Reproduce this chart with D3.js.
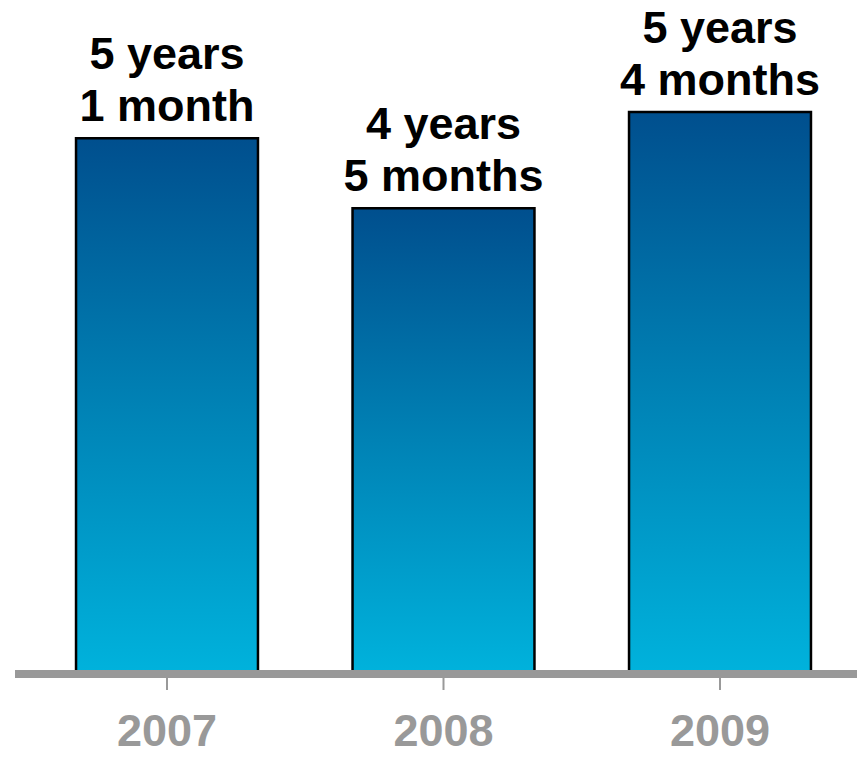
<!DOCTYPE html>
<html>
<head>
<meta charset="utf-8">
<script src="https://cdn.jsdelivr.net/npm/d3@7"></script>
<style>
  html, body { margin: 0; padding: 0; background: #fff; }
  svg { display: block; }
</style>
</head>
<body>
<svg id="chart" width="857" height="757"></svg>
<script>
const categories = ["2007", "2008", "2009"];
const months = [61, 53, 64];
const labelLine1 = ["5 years", "4 years", "5 years"];
const labelLine2 = ["1 month", "5 months", "4 months"];

const W = 857, H = 757;
const svg = d3.select("#chart");

const x = d3.scaleBand().domain(categories).range([28.75, 858.25]).paddingInner(0.342).paddingOuter(0.171);
const y = d3.scaleLinear().domain([0, 64]).range([672, 112]);

const defs = svg.append("defs");
const grad = defs.append("linearGradient").attr("id", "barGrad")
  .attr("x1", 0).attr("y1", 0).attr("x2", 0).attr("y2", 1);
grad.append("stop").attr("offset", "0%").attr("stop-color", "#004f8e");
grad.append("stop").attr("offset", "50%").attr("stop-color", "#0082b5");
grad.append("stop").attr("offset", "100%").attr("stop-color", "#00b2dc");

const data = categories.map((c, i) => ({c, v: months[i], l1: labelLine1[i], l2: labelLine2[i]}));

svg.selectAll("rect.bar").data(data).enter().append("rect")
  .attr("class", "bar")
  .attr("x", d => x(d.c))
  .attr("y", d => y(d.v))
  .attr("width", x.bandwidth())
  .attr("height", d => y(0) - y(d.v))
  .attr("fill", "url(#barGrad)")
  .attr("stroke", "#000")
  .attr("stroke-width", 2.5);

// axis
const axisG = svg.append("g").attr("transform", `translate(0,${674})`);
const xAxis = d3.axisBottom(x).tickSize(16).tickPadding(28).tickSizeOuter(0);
axisG.call(xAxis);
axisG.select(".domain").remove();
axisG.insert("line", ":first-child")
  .attr("x1", 15).attr("x2", W).attr("y1", 0).attr("y2", 0)
  .attr("stroke", "#999").attr("stroke-width", 8);
axisG.selectAll(".tick line").attr("stroke", "#999").attr("stroke-width", 2);
axisG.selectAll(".tick text")
  .attr("fill", "#999")
  .attr("font-family", "Liberation Sans, Arial, sans-serif")
  .attr("font-weight", "bold")
  .attr("font-size", 45)
  .attr("dy", null)
  .attr("y", 72);

// value labels
const lbl = svg.selectAll("text.val").data(data).enter().append("text")
  .attr("class", "val")
  .attr("x", d => x(d.c) + x.bandwidth() / 2)
  .attr("text-anchor", "middle")
  .attr("font-family", "Liberation Sans, Arial, sans-serif")
  .attr("font-weight", "bold")
  .attr("font-size", 45)
  .attr("fill", "#000");
lbl.append("tspan").attr("x", d => x(d.c) + x.bandwidth() / 2)
  .attr("y", d => y(d.v) - 17 - 52).text(d => d.l1);
lbl.append("tspan").attr("x", d => x(d.c) + x.bandwidth() / 2)
  .attr("y", d => y(d.v) - 17).text(d => d.l2);
</script>
</body>
</html>
